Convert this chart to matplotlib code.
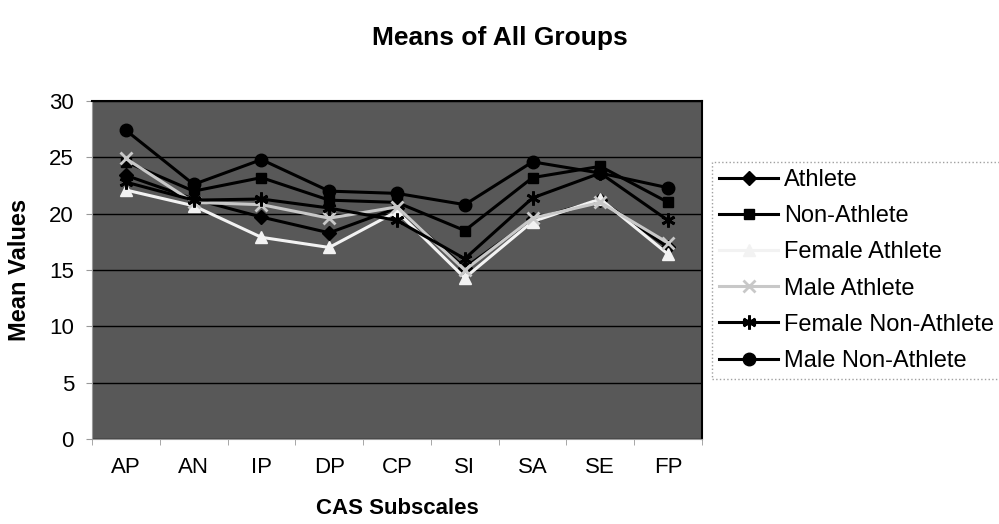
import numpy as np
import matplotlib.pyplot as plt

plt.rcParams['font.family'] = ['Liberation Sans', 'DejaVu Sans']

subscales = ['AP', 'AN', 'IP', 'DP', 'CP', 'SI', 'SA', 'SE', 'FP']

athlete = [23.4, 21.3, 19.7, 18.3, 20.5, 15.2, 19.5, 21.2, 17.0]
non_athlete = [24.6, 22.0, 23.2, 21.2, 21.0, 18.5, 23.2, 24.2, 21.0]
female_athlete = [22.1, 20.7, 17.9, 17.0, 20.2, 14.3, 19.3, 21.3, 16.4]
male_athlete = [24.9, 21.0, 20.8, 19.6, 20.6, 15.0, 19.6, 21.0, 17.4]
female_non_athlete = [22.8, 21.2, 21.3, 20.5, 19.4, 16.0, 21.4, 23.6, 19.4]
male_non_athlete = [27.4, 22.6, 24.8, 22.0, 21.8, 20.8, 24.6, 23.6, 22.3]

series = [
    ('Athlete', athlete, 'black', 'D', 7),
    ('Non-Athlete', non_athlete, 'black', 's', 7),
    ('Female Athlete', female_athlete, '#f2f2f2', '^', 9),
    ('Male Athlete', male_athlete, '#c8c8c8', 'x', 9),
    ('Female Non-Athlete', female_non_athlete, 'black', (6, 2, 0), 10),
    ('Male Non-Athlete', male_non_athlete, 'black', 'o', 9),
]

fig = plt.figure(figsize=(9.99, 5.24), dpi=100)
ax = fig.add_axes([92/999, 1 - 439/524, 610/999, 338/524])
ax.set_facecolor('#585858')

x = np.arange(len(subscales))
for name, vals, col, mk, ms in series:
    ax.plot(x, vals, color=col, marker=mk, markersize=ms, linewidth=2.2,
            markeredgewidth=2 if mk in ('x', (6, 2, 0)) else 1,
            markeredgecolor=col, markerfacecolor=col, label=name)

ax.set_xlim(-0.5, len(subscales) - 0.5)
ax.set_ylim(0, 30)
ax.set_yticks(np.arange(0, 31, 5))
ax.yaxis.grid(True, color='black', linewidth=1)
ax.set_axisbelow(True)

ax.set_xticks(x)
ax.set_xticklabels(subscales)
ax.set_xticks(np.arange(-0.5, len(subscales)), minor=True)
ax.tick_params(axis='x', which='major', length=0, pad=13, labelsize=16)
ax.tick_params(axis='x', which='minor', length=4, color='#999999')
ax.tick_params(axis='y', length=4, color='#999999', pad=9, labelsize=16)

for side in ['top', 'right']:
    ax.spines[side].set_linewidth(1.5)
ax.spines['left'].set_color('#999999')
ax.spines['bottom'].set_color('#999999')

ax.set_xlabel('CAS Subscales', fontsize=16, fontweight='bold', labelpad=14)
ax.set_ylabel('Mean Values', fontsize=17, fontweight='bold', labelpad=13)
fig.text(0.5, 1 - 38/524, 'Means of All Groups', ha='center', va='center',
         fontsize=19, fontweight='bold')

leg = ax.legend(loc='upper left', bbox_to_anchor=(712/999, 1 - 162/524),
                bbox_transform=fig.transFigure, fontsize=17, frameon=True,
                fancybox=False, borderpad=0.3, labelspacing=0.6,
                handlelength=2.5, handletextpad=0.25, borderaxespad=0)
leg.get_frame().set_edgecolor('#888888')
leg.get_frame().set_linestyle(':')
leg.get_frame().set_linewidth(1)

fig.savefig('out.png', dpi=100)
